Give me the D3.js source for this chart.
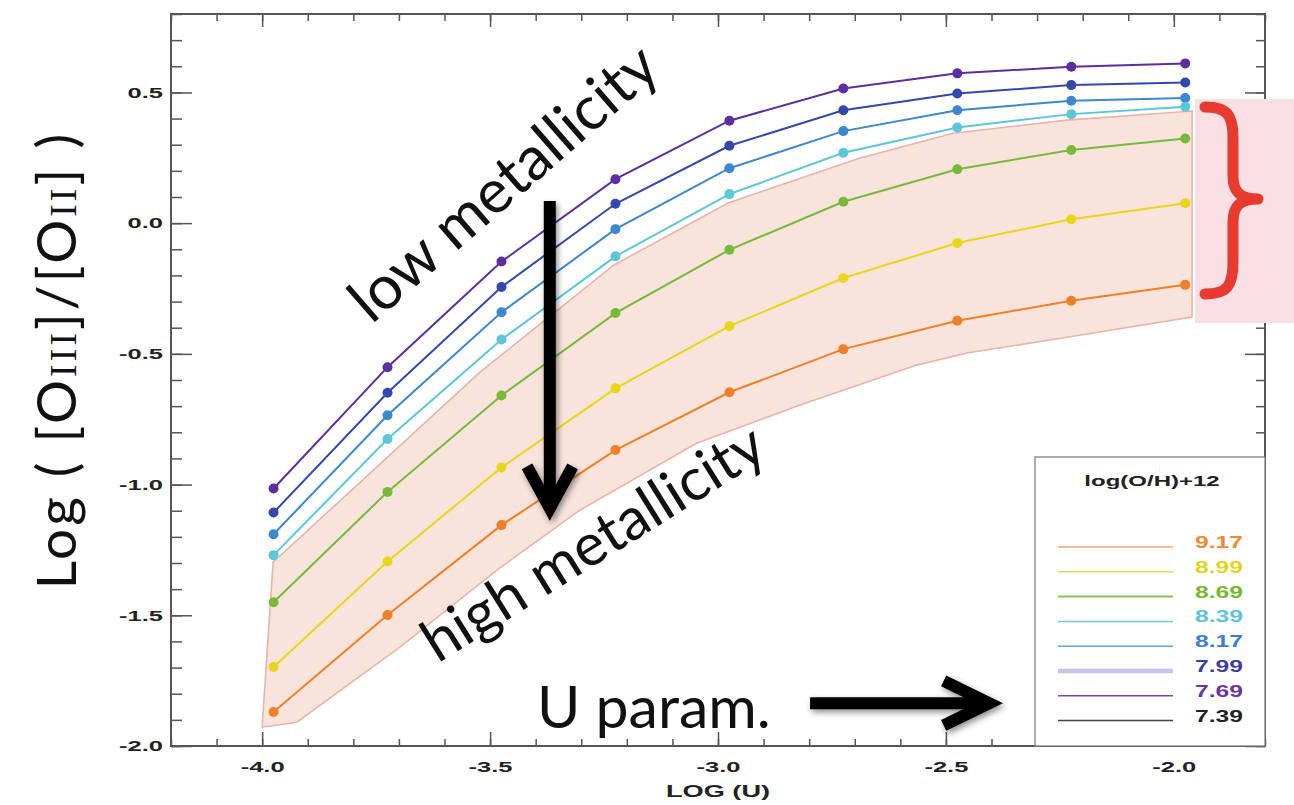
<!DOCTYPE html>
<html>
<head>
<meta charset="utf-8">
<script src="https://cdn.jsdelivr.net/npm/d3@7"></script>
<style>
  html, body { margin: 0; padding: 0; background: #fff; }
  svg { display: block; }
</style>
</head>
<body>
<svg id="chart" width="1294" height="805"></svg>
<script>
// log(U) grid of the photoionization models
const logU = [-3.975, -3.725, -3.475, -3.225, -2.975, -2.725, -2.475, -2.225, -1.975];

// log([OIII]/[OII]) for each metallicity track
const oh769 = [-1.015, -0.551, -0.147, 0.168, 0.392, 0.515, 0.573, 0.598, 0.611];
const oh799 = [-1.107, -0.649, -0.244, 0.074, 0.296, 0.432, 0.496, 0.528, 0.538];
const oh817 = [-1.190, -0.735, -0.341, -0.023, 0.210, 0.352, 0.432, 0.468, 0.479];
const oh839 = [-1.270, -0.826, -0.445, -0.127, 0.111, 0.269, 0.366, 0.417, 0.445];
const oh869 = [-1.450, -1.028, -0.659, -0.344, -0.102, 0.082, 0.206, 0.280, 0.324];
const oh899 = [-1.698, -1.294, -0.935, -0.632, -0.394, -0.210, -0.076, 0.015, 0.076];
const oh917 = [-1.870, -1.499, -1.155, -0.868, -0.647, -0.482, -0.373, -0.297, -0.236];

// legend entries, log(O/H)+12
const legendLabels = ["9.17", "8.99", "8.69", "8.39", "8.17", "7.99", "7.69", "7.39"];

// shaded high-metallicity envelope (upper edge, then lower edge right to left)
const bandUpper = [[-3.976, -1.297], [-3.522, -0.570], [-3.228, -0.160], [-2.978, 0.077],
                   [-2.688, 0.249], [-2.484, 0.344], [-2.234, 0.394], [-1.960, 0.429]];
const bandLower = [[-1.960, -0.359], [-2.272, -0.447], [-2.454, -0.497], [-2.564, -0.543],
                   [-2.820, -0.696], [-3.046, -0.841], [-3.303, -1.098], [-3.485, -1.327],
                   [-3.698, -1.622], [-3.924, -1.909], [-4.000, -1.928]];

// axis ticks
const xMajor = [-4.0, -3.5, -3.0, -2.5, -2.0];
const yMajor = [-2.0, -1.5, -1.0, -0.5, 0.0, 0.5];

const series = [
  { label: "7.69", values: oh769, color: "#5e2e9e" },
  { label: "7.99", values: oh799, color: "#3448ac" },
  { label: "8.17", values: oh817, color: "#3d87cf" },
  { label: "8.39", values: oh839, color: "#5cc6da" },
  { label: "8.69", values: oh869, color: "#78b93a" },
  { label: "8.99", values: oh899, color: "#e9d51a" },
  { label: "9.17", values: oh917, color: "#f08028" }
];

const legendStyle = {
  "9.17": { line: "#f5a66c", text: "#f08a30", w: 1.5 },
  "8.99": { line: "#e6df5a", text: "#e3d31c", w: 1.5 },
  "8.69": { line: "#8cc052", text: "#78b830", w: 2 },
  "8.39": { line: "#6fcbd8", text: "#5ec4dc", w: 1.5 },
  "8.17": { line: "#5ea6e0", text: "#3c7fcf", w: 1.5 },
  "7.99": { line: "#c3c6ea", text: "#3b3fa5", w: 4.5 },
  "7.69": { line: "#7a42b2", text: "#6b34a6", w: 1.5 },
  "7.39": { line: "#444444", text: "#222222", w: 1.5 }
};

const W = 1294, H = 805;
const plot = { left: 171, right: 1265, top: 14, bottom: 746 };

const svg = d3.select("#chart");

const x = d3.scaleLinear().domain([-4.2, -1.8]).range([plot.left, plot.right]);
const y = d3.scaleLinear().domain([-2.0, 0.8]).range([plot.bottom, plot.top]);

// drop shadow for the annotation arrows
const defs = svg.append("defs");
const shadow = defs.append("filter").attr("id", "shadow")
  .attr("x", "-30%").attr("y", "-30%").attr("width", "160%").attr("height", "160%");
shadow.append("feDropShadow").attr("dx", 2).attr("dy", 3)
  .attr("stdDeviation", 3).attr("flood-color", "#000").attr("flood-opacity", 0.45);

// envelope
const poly = d3.line().x(d => x(d[0])).y(d => y(d[1])).curve(d3.curveLinearClosed);
svg.append("path")
  .attr("d", poly(bandUpper.concat(bandLower)))
  .attr("fill", "#f9e4dc")
  .attr("stroke", "#e9b3ab")
  .attr("stroke-width", 1.6);

// axes
const fmt = d => d.toFixed(1);
const tickColor = "#555";
const labelFont = "'Liberation Sans', Arial, Helvetica, sans-serif";
const sx = 1.7;

function styleAxis(g) {
  g.select(".domain").remove();
  g.selectAll(".tick line").attr("stroke", tickColor).attr("stroke-width", 1.5);
}

const xMinor = d3.range(-42, -17).map(v => v / 10);
const yMinor = d3.range(-20, 9).map(v => v / 10);

// bottom
svg.append("g").attr("transform", `translate(0,${plot.bottom})`)
  .call(d3.axisBottom(x).tickValues(xMinor).tickSize(-7).tickFormat(""))
  .call(styleAxis);
const xAxisG = svg.append("g").attr("transform", `translate(0,${plot.bottom})`)
  .call(d3.axisBottom(x).tickValues(xMajor).tickSize(-14).tickPadding(15).tickFormat(fmt))
  .call(styleAxis);
xAxisG.selectAll(".tick text")
  .attr("font-family", labelFont).attr("font-weight", "bold").attr("font-size", 15)
  .attr("fill", "#222").attr("transform", `scale(${sx},1)`);

// top
svg.append("g").attr("transform", `translate(0,${plot.top})`)
  .call(d3.axisTop(x).tickValues(xMinor).tickSize(-7).tickFormat(""))
  .call(styleAxis);
svg.append("g").attr("transform", `translate(0,${plot.top})`)
  .call(d3.axisTop(x).tickValues(xMajor).tickSize(-13).tickFormat(""))
  .call(styleAxis);

// left
svg.append("g").attr("transform", `translate(${plot.left},0)`)
  .call(d3.axisLeft(y).tickValues(yMinor).tickSize(-11).tickFormat(""))
  .call(styleAxis);
const yAxisG = svg.append("g").attr("transform", `translate(${plot.left},0)`)
  .call(d3.axisLeft(y).tickValues(yMajor).tickSize(-21).tickFormat(fmt))
  .call(styleAxis);
yAxisG.selectAll(".tick text")
  .attr("font-family", labelFont).attr("font-weight", "bold").attr("font-size", 15)
  .attr("fill", "#222").attr("x", -8 / sx).attr("transform", `scale(${sx},1)`);

// right
svg.append("g").attr("transform", `translate(${plot.right},0)`)
  .call(d3.axisRight(y).tickValues(yMinor).tickSize(-9).tickFormat(""))
  .call(styleAxis);
svg.append("g").attr("transform", `translate(${plot.right},0)`)
  .call(d3.axisRight(y).tickValues(yMajor).tickSize(-20).tickFormat(""))
  .call(styleAxis);

// frame
svg.append("rect")
  .attr("x", plot.left).attr("y", plot.top)
  .attr("width", plot.right - plot.left).attr("height", plot.bottom - plot.top)
  .attr("fill", "none").attr("stroke", "#555").attr("stroke-width", 2);

// x title
svg.append("text")
  .attr("transform", `translate(${(plot.left + plot.right) / 2},797) scale(${sx},1)`)
  .attr("text-anchor", "middle")
  .attr("font-family", labelFont).attr("font-weight", "bold").attr("font-size", 16)
  .attr("fill", "#222").text("LOG (U)");

// y title
const yt = svg.append("text")
  .attr("transform", "translate(76,360) rotate(-90)")
  .attr("text-anchor", "middle")
  .attr("font-family", "Lato, 'Open Sans', sans-serif").attr("font-size", 55)
  .attr("letter-spacing", 3)
  .attr("fill", "#111");
const romanFont = "'Liberation Serif', 'DejaVu Serif', serif";
yt.append("tspan").text("Log ( [O");
yt.append("tspan").attr("font-family", romanFont).attr("font-size", 38).text("III");
yt.append("tspan").text("]/[O");
yt.append("tspan").attr("font-family", romanFont).attr("font-size", 38).text("II");
yt.append("tspan").text("] )");

// metallicity tracks
const line = d3.line().x((d, i) => x(logU[i])).y(d => y(d));
const tracks = svg.append("g");
series.forEach(s => {
  tracks.append("path")
    .attr("d", line(s.values))
    .attr("fill", "none").attr("stroke", s.color).attr("stroke-width", 2);
  tracks.selectAll(null).data(s.values).enter().append("circle")
    .attr("cx", (d, i) => x(logU[i])).attr("cy", d => y(d))
    .attr("r", 5).attr("fill", s.color);
});

// legend
const lg = svg.append("g");
lg.append("rect").attr("x", 1035).attr("y", 457)
  .attr("width", plot.right - 1035).attr("height", plot.bottom - 457)
  .attr("fill", "#fff").attr("stroke", "#777").attr("stroke-width", 1.2);
lg.append("text")
  .attr("transform", `translate(1152,486) scale(1.6,1)`)
  .attr("text-anchor", "middle")
  .attr("font-family", labelFont).attr("font-weight", "bold").attr("font-size", 15)
  .attr("fill", "#222").text("log(O/H)+12");
legendLabels.forEach((lab, i) => {
  const ly = 547 + i * 24.8;
  const st = legendStyle[lab];
  lg.append("line").attr("x1", 1058).attr("x2", 1173).attr("y1", ly).attr("y2", ly)
    .attr("stroke", st.line).attr("stroke-width", st.w);
  lg.append("text")
    .attr("transform", `translate(1243,${ly + 1}) scale(1.45,1)`)
    .attr("text-anchor", "end")
    .attr("font-family", labelFont).attr("font-weight", "bold").attr("font-size", 17)
    .attr("fill", st.text).text(lab);
});

// bracket marking the high-metallicity range at high U
svg.append("rect").attr("x", 1195).attr("y", 99).attr("width", W - 1195).attr("height", 224)
  .attr("fill", "#f8e0e5");
svg.append("path")
  .attr("d", "M1205,107 C1228,107 1233,116 1233,138 L1233,176 C1233,192 1240,199 1258,199 " +
             "C1240,199 1233,206 1233,222 L1233,262 C1233,285 1228,294 1205,294")
  .attr("fill", "none").attr("stroke", "#e63b2e").attr("stroke-width", 11)
  .attr("stroke-linecap", "round").attr("stroke-linejoin", "round");

// annotations
const annoFont = "Lato, 'Open Sans', sans-serif";
function rotText(px, py, angle, size, txt) {
  svg.append("text")
    .attr("transform", `translate(${px},${py}) rotate(${angle})`)
    .attr("font-family", annoFont).attr("font-size", size).attr("fill", "#111")
    .text(txt);
}
rotText(x(-3.76), y(-0.39), -41, 61, "low metallicity");
rotText(x(-3.615), y(-1.685), -32, 59, "high metallicity");
svg.append("text")
  .attr("x", x(-3.397)).attr("y", y(-1.93))
  .attr("font-family", annoFont).attr("font-size", 59).attr("fill", "#111")
  .text("U param.");

// arrows
const arrows = svg.append("g").attr("filter", "url(#shadow)")
  .attr("stroke", "#000").attr("stroke-width", 12).attr("fill", "none")
  .attr("stroke-linejoin", "miter");
const vx = -3.369;
arrows.append("line")
  .attr("x1", x(vx)).attr("x2", x(vx)).attr("y1", y(0.085)).attr("y2", y(-1.08));
arrows.append("polyline")
  .attr("points", [[x(vx - 0.05), y(-0.93)], [x(vx), y(-1.09)], [x(vx + 0.05), y(-0.93)]].join(" "));
const hy = -1.836;
arrows.append("line")
  .attr("x1", x(-2.798)).attr("x2", x(-2.41)).attr("y1", y(hy)).attr("y2", y(hy));
arrows.append("polyline")
  .attr("points", [[x(-2.505), y(hy + 0.085)], [x(-2.405), y(hy)], [x(-2.505), y(hy - 0.085)]].join(" "));
</script>
</body>
</html>
